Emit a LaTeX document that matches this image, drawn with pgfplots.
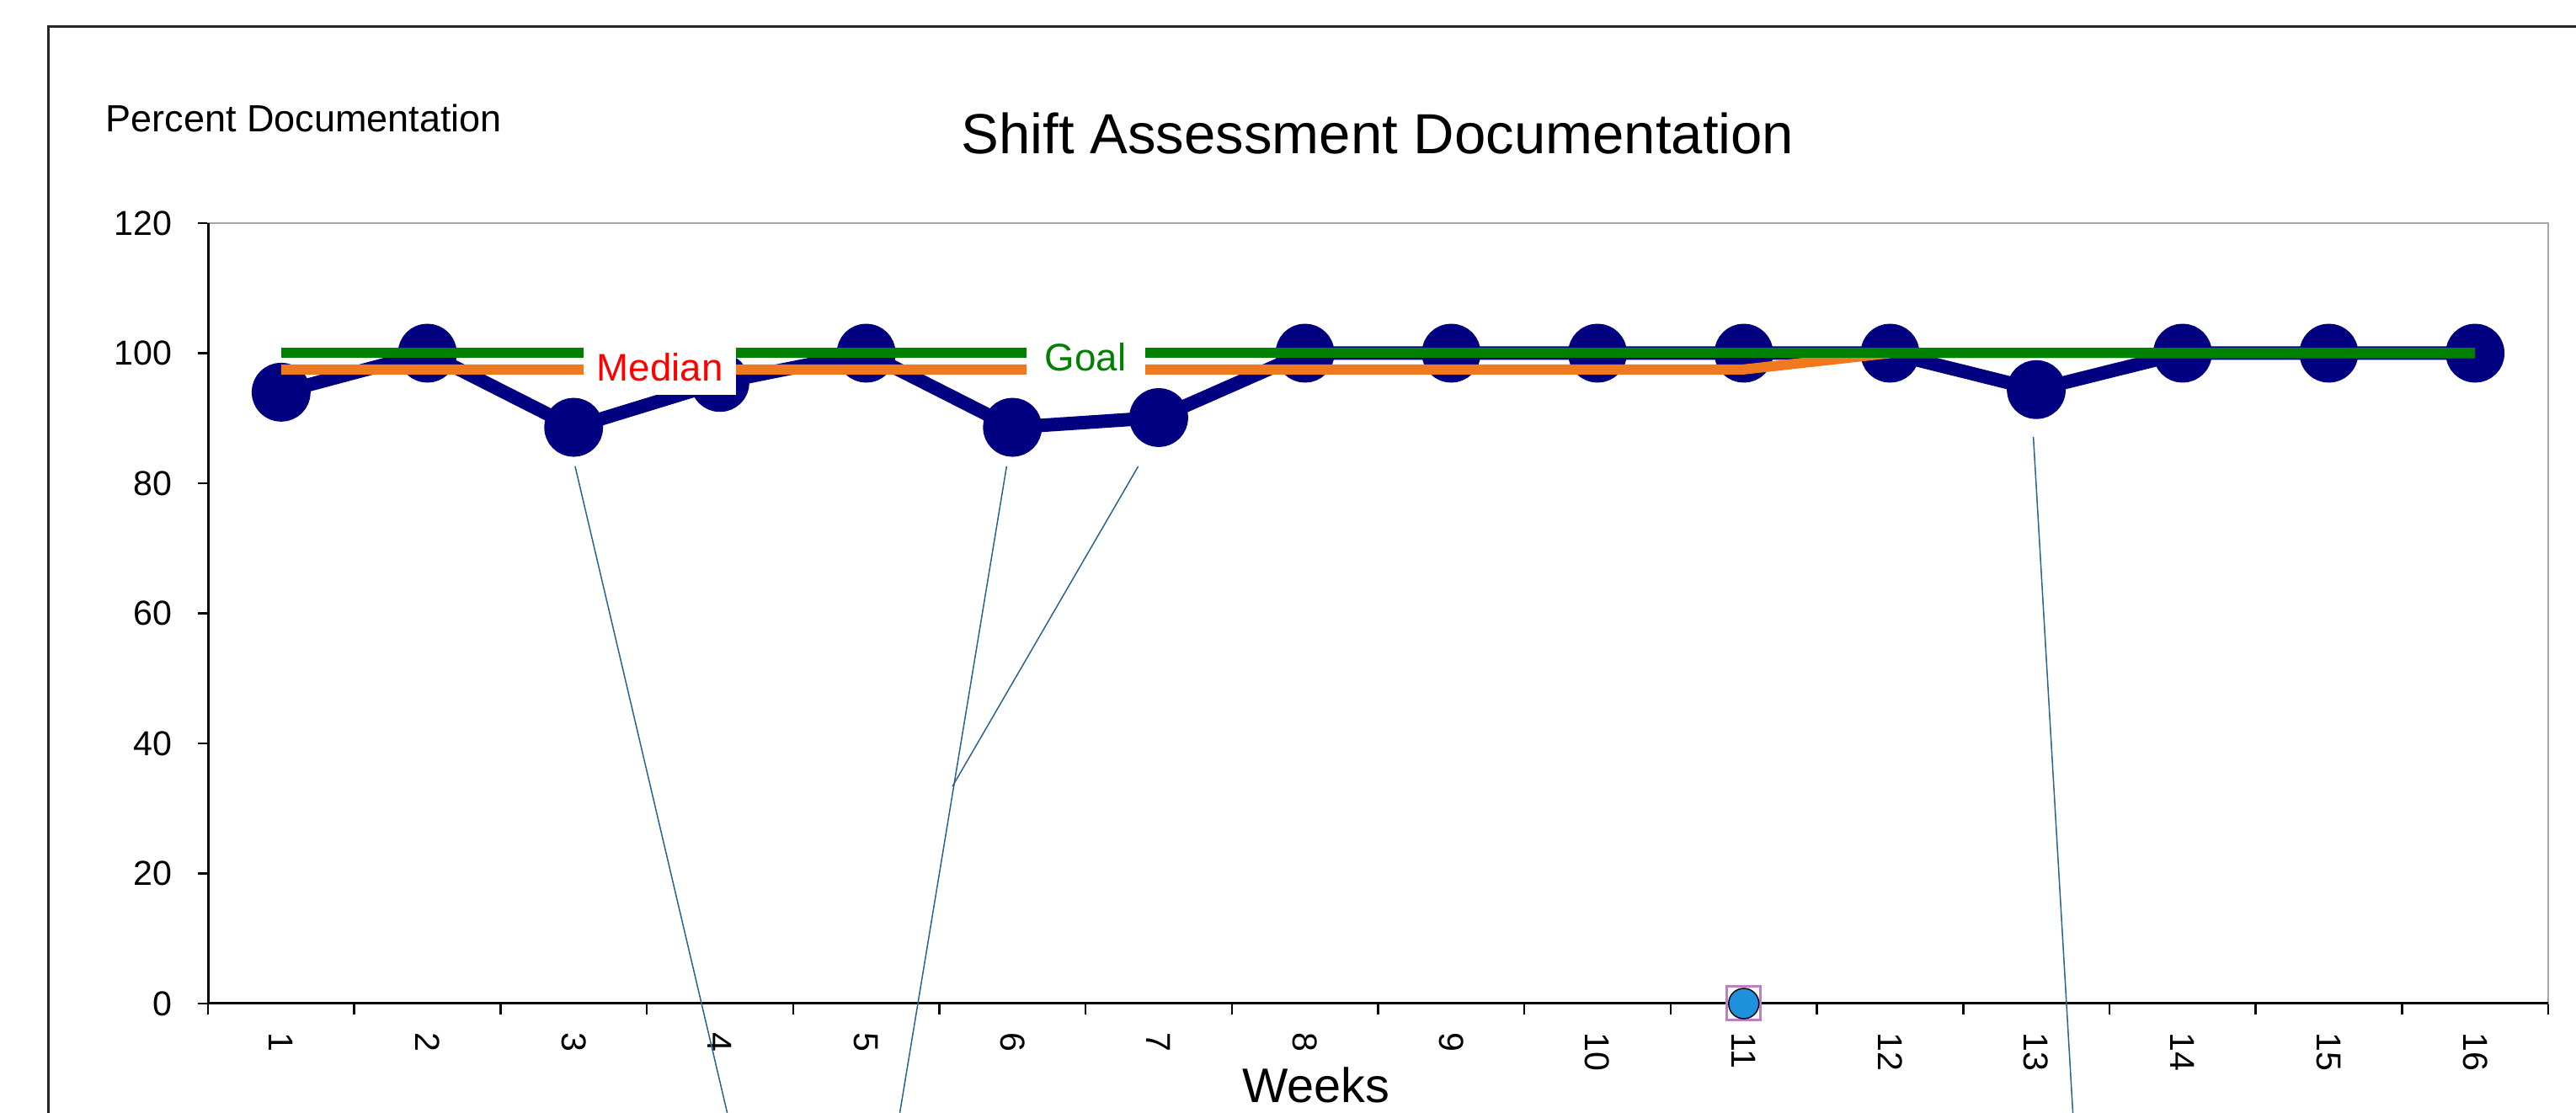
\documentclass[border=0pt]{standalone}
\usepackage{pgfplots}
\pgfplotsset{compat=1.18}
\usepackage{fontspec}
\setmainfont{Liberation Sans}
\definecolor{navyc}{RGB}{0,0,128}
\definecolor{goalg}{RGB}{0,128,0}
\definecolor{medo}{RGB}{240,120,30}
\definecolor{leader}{RGB}{40,100,140}
\definecolor{mblue}{RGB}{30,144,220}
\begin{document}
\begin{tikzpicture}
\useasboundingbox (0,0) rectangle (305.9mm,132.2mm);
\draw[line width=0.3mm, black!85] (5.7mm,-1mm) -- (5.7mm,129.0mm) -- (310mm,129.0mm);
\begin{axis}[
  at={(24.7mm,13.0mm)}, anchor=south west,
  width=277.9mm, height=92.7mm, scale only axis,
  xmin=0.5, xmax=16.5, ymin=0, ymax=120,
  clip=false, clip marker paths=true,
  xtick={1,...,16},
  minor xtick={0.5,1.5,...,16.5},
  ytick={0,20,...,120},
  xtick pos=bottom, ytick pos=left,
  tick align=outside,
  major tick length=1.2mm, minor tick length=1.3mm,
  major x tick style={draw=none},
  tick style={black, line width=0.25mm},
  axis line style={draw=gray!70, line width=0.2mm},
  ticklabel style={font=\fontsize{11.7}{12}\selectfont},
  /pgf/number format/assume math mode=true,
  xticklabel style={rotate=-90, anchor=west, inner xsep=2.2mm},
  yticklabel style={anchor=east, xshift=-1.8mm},
  ]
\addplot[navyc, line width=1.6mm, line join=round, mark=*, mark size=2.7mm,
  mark options={fill=navyc, draw=none}] coordinates {
  (1,94) (2,100) (3,88.6) (4,95.5) (5,100) (6,88.6) (7,90.1) (8,100)
  (9,100) (10,100) (11,100) (12,100) (13,94.4) (14,100) (15,100) (16,100)};
\addplot[medo, line width=1.2mm, no marks] coordinates {
  (1,97.5) (2,97.5) (3,97.5) (4,97.5) (5,97.5) (6,97.5) (7,97.5) (8,97.5)
  (9,97.5) (10,97.5) (11,97.5) (12,100) (13,100) (14,100) (15,100) (16,100)};
\addplot[goalg, line width=1.2mm, no marks] coordinates {
  (1,100) (2,100) (3,100) (4,100) (5,100) (6,100) (7,100) (8,100)
  (9,100) (10,100) (11,100) (12,100) (13,100) (14,100) (15,100) (16,100)};
\draw[black, line width=0.3mm] (rel axis cs:0,1) -- (rel axis cs:0,0) -- (rel axis cs:1,0);
\addplot[only marks, mark=square*, mark size=2mm,
  mark options={fill=white, draw=violet!50, line width=0.3mm}] coordinates {(11,0)};
\addplot[only marks, mark=*, mark size=1.8mm,
  mark options={fill=mblue, draw=none}] coordinates {(11,0)};
\draw[leader, line width=0.15mm] (axis cs:3.01,82.6) -- (axis cs:4.05,-16.8);
\draw[leader, line width=0.15mm] (axis cs:5.96,82.6) -- (axis cs:5.23,-16.8);
\draw[leader, line width=0.15mm] (axis cs:6.86,82.6) -- (axis cs:5.59,33.4);
\draw[leader, line width=0.15mm] (axis cs:12.98,87.1) -- (axis cs:13.25,-16.8);
\coordinate (med) at (axis cs:3.59,97.9);
\coordinate (goal) at (axis cs:6.50,99.4);
\end{axis}
\node[fill=white, text=red, font=\fontsize{13}{13}\selectfont, minimum width=18.1mm,
  minimum height=6.6mm, inner sep=0pt] at (med) {Median};
\node[fill=white, text=goalg, font=\fontsize{13}{13}\selectfont, minimum width=14.1mm,
  minimum height=5.5mm, inner sep=0pt] at (goal) {Goal};
\node[anchor=base west, font=\fontsize{12.8}{13}\selectfont, inner sep=0pt] at (12.5mm,116.5mm) {Percent Documentation};
\node[anchor=base, font=\fontsize{19.1}{20}\selectfont, inner sep=0pt] at (163.6mm,113.9mm) {Shift Assessment Documentation};
\node[anchor=base, font=\fontsize{16.4}{17}\selectfont, inner sep=0pt] at (156.3mm,1.2mm) {Weeks};
\end{tikzpicture}
\end{document}
